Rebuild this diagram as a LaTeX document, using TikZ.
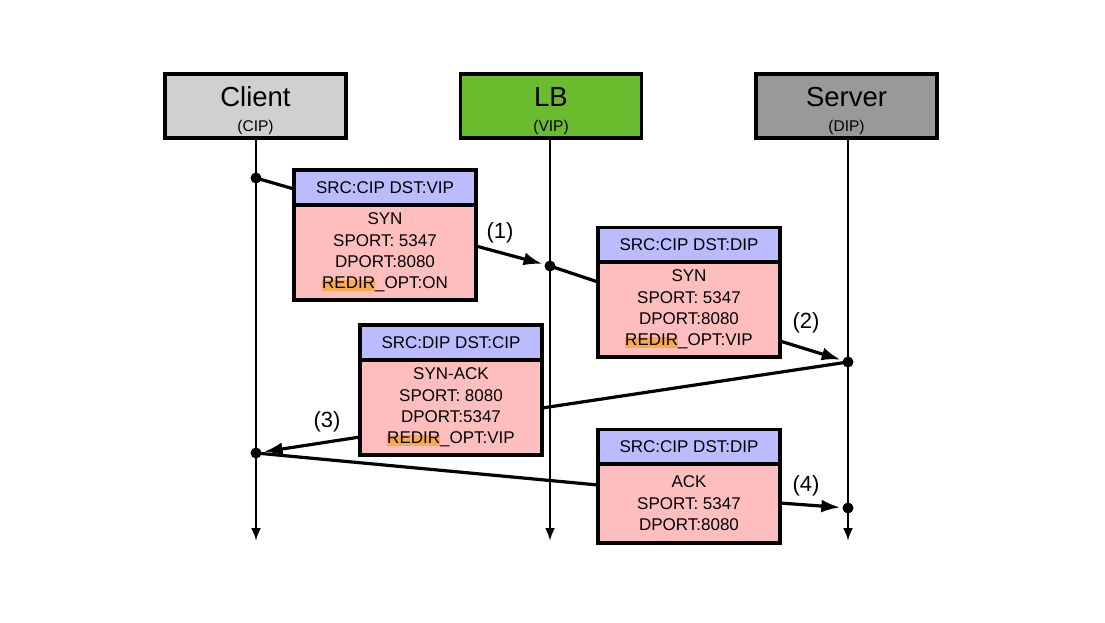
\documentclass[tikz,border=0pt]{standalone}
\usepackage{fontspec}
\setmainfont{Liberation Sans}
\usetikzlibrary{arrows.meta}
\definecolor{clientgray}{RGB}{208,208,208}
\definecolor{lbgreen}{RGB}{106,187,46}
\definecolor{servergray}{RGB}{153,153,153}
\definecolor{hdrblue}{RGB}{187,187,255}
\definecolor{bodypink}{RGB}{255,190,190}
\definecolor{hlorange}{RGB}{250,170,75}
\newcommand\hlword[1]{\setbox0\hbox{#1}\rlap{\textcolor{hlorange}{\rule[-0.14em]{\wd0}{0.66em}}}#1}
\tikzset{
  actor/.style={draw=black, line width=3.2pt, minimum width=181pt, minimum height=64pt, inner sep=0pt},
  bigtxt/.style={font=\fontsize{27.5}{30}\selectfont, inner sep=0pt, anchor=base},
  smalltxt/.style={font=\fontsize{15.5}{17}\selectfont, inner sep=0pt, anchor=base},
  msghdr/.style={draw=black, line width=3.2pt, fill=hdrblue, minimum width=182pt, minimum height=35pt, inner sep=0pt, font=\fontsize{17}{20}\selectfont},
  msgbody/.style={draw=black, line width=3.2pt, fill=bodypink, minimum width=182pt, inner sep=0pt, align=center, font=\fontsize{17}{21.4}\selectfont},
  life/.style={line width=2.6pt, -{Latex[length=13pt,width=10pt]}},
  conn/.style={line width=3.2pt},
  connarr/.style={line width=3.2pt, -{Latex[length=19pt,width=13pt]}, shorten >=2pt},
  dot/.style={circle, fill=black, inner sep=0pt, minimum size=11pt},
  steplabel/.style={font=\fontsize{22}{26}\selectfont, inner sep=0pt}
}
\begin{document}
\begin{tikzpicture}[x=1pt,y=-1pt]
\useasboundingbox (0,0) rectangle (1105,622);
% actors
\node[actor, fill=clientgray] (client) at (255.5,106) {};
\node[bigtxt] (clientT) at (255.5,106) {Client};
\node[smalltxt] (clientS) at (255.5,131) {(CIP)};
\node[actor, fill=lbgreen] (lb) at (551,106) {};
\node[bigtxt] (lbT) at (551,106) {LB};
\node[smalltxt] (lbS) at (551,131) {(VIP)};
\node[actor, fill=servergray] (server) at (846.5,106) {};
\node[bigtxt] (serverT) at (846.5,106) {Server};
\node[smalltxt] (serverS) at (846.5,131) {(DIP)};
% lifelines
\coordinate (cEnd) at (256,541);
\coordinate (lEnd) at (550,541);
\coordinate (sEnd) at (848,541);
\draw[life] (256,139) -- (cEnd);
\draw[life] (550,139) -- (lEnd);
\draw[life] (848,139) -- (sEnd);
% message boxes
\node[msghdr] (b1h) at (385,187.5) {SRC:CIP DST:VIP};
\node[msgbody, minimum height=95pt] (b1b) at (385,252.5) {SYN\\SPORT: 5347\\DPORT:8080\\\hlword{REDIR}\_OPT:ON};
\node[msghdr] (b2h) at (689,245) {SRC:CIP DST:DIP};
\node[msgbody, minimum height=95pt] (b2b) at (689,309.5) {SYN\\SPORT: 5347\\DPORT:8080\\\hlword{REDIR}\_OPT:VIP};
\node[msghdr] (b3h) at (451,342.5) {SRC:DIP DST:CIP};
\node[msgbody, minimum height=95pt] (b3b) at (451,407.5) {SYN-ACK\\SPORT: 8080\\DPORT:5347\\\hlword{REDIR}\_OPT:VIP};
\node[msghdr] (b4h) at (689,447) {SRC:CIP DST:DIP};
\node[msgbody, minimum height=79pt] (b4b) at (689,503.5) {ACK\\SPORT: 5347\\DPORT:8080};
% dots
\node[dot] (d1) at (256,178) {};
\node[dot] (d2) at (550,266) {};
\node[dot] (d3) at (848,362) {};
\node[dot] (d4) at (256,453) {};
\node[dot] (d5) at (848,508) {};
% connection points
\coordinate (b1in) at (294,189);
\coordinate (b1out) at (476,246);
\coordinate (b2in) at (598,282);
\coordinate (b2out) at (780,341);
\coordinate (b3in) at (542,408);
\coordinate (b3out) at (360,437);
\coordinate (b4in) at (598,485);
\coordinate (b4out) at (780,503);
% connectors
\draw[conn] (d1.center) -- (b1in);
\draw[connarr] (b1out) -- (d2);
\draw[conn] (d2.center) -- (b2in);
\draw[connarr] (b2out) -- (d3);
\draw[conn] (d3.center) -- (b3in);
\draw[connarr] (b3out) -- (d4);
\draw[conn] (d4.center) -- (b4in);
\draw[connarr] (b4out) -- (d5);
% step labels
\node[steplabel] (l1) at (500,233) {(1)};
\node[steplabel] (l2) at (806,323) {(2)};
\node[steplabel] (l3) at (327,422) {(3)};
\node[steplabel] (l4) at (806,486) {(4)};
\end{tikzpicture}
\end{document}
